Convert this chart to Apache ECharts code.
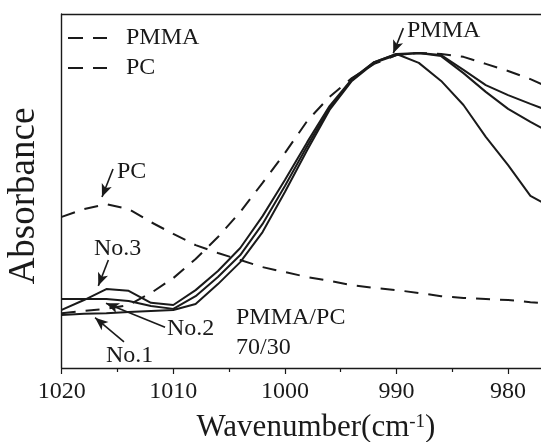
<!DOCTYPE html>
<html>
<head>
<meta charset="utf-8">
<style>
  html, body { margin: 0; padding: 0; background: #fff; overflow: hidden; }
  #chart { width: 541px; height: 442px; }
</style>
<script src="https://cdn.jsdelivr.net/npm/echarts@6/dist/echarts.min.js"></script>
</head>
<body>
<div id="chart"></div>
<script>
// FTIR spectra in the 1020-977 cm-1 region, PMMA/PC 70/30 blends
const wavenumbers = [1020, 1018, 1016, 1014, 1012, 1010, 1008, 1006, 1004, 1002, 1000,
  998, 996, 994, 992, 990, 988, 986, 984, 982, 980, 978, 977];

// reference spectra (dashed)
const pmma = [15.5, 16.1, 16.7, 17.8, 21.2, 25.4, 30.8, 37.0, 44.1, 52.3, 60.7,
  69.8, 76.6, 81.9, 85.9, 88.4, 89.0, 88.7, 87.9, 85.9, 83.9, 81.6, 80.2];
const pc = [42.7, 44.9, 46.3, 44.9, 41.2, 37.9, 34.7, 32.5, 30.5, 28.5, 27.1,
  25.7, 24.6, 23.4, 22.6, 22.0, 21.2, 20.3, 19.8, 19.5, 19.2, 18.6, 18.4];

// blend samples (solid)
const no1 = [15.0, 15.3, 15.5, 15.8, 16.1, 16.4, 18.1, 23.7, 29.9, 38.4, 49.7,
  61.6, 72.9, 81.1, 86.2, 88.4, 89.0, 88.1, 83.3, 78.0, 73.2, 69.5, 67.8];
const no2 = [19.5, 19.5, 19.5, 18.9, 17.5, 16.7, 20.3, 25.7, 31.9, 40.7, 51.4,
  62.7, 73.4, 81.4, 86.4, 88.7, 89.0, 88.4, 84.2, 79.9, 77.1, 74.6, 73.4];
const no3 = [16.4, 19.2, 22.3, 21.8, 18.4, 17.8, 22.0, 27.4, 33.9, 42.9, 53.1,
  63.8, 74.0, 81.6, 86.4, 88.7, 86.2, 81.1, 74.3, 65.3, 57.3, 48.6, 46.9];

const xTicks = { min: 970, max: 1020, interval: 10 };

// annotation arrows in data coordinates: [from, to]
const arrows = [
  [[1015.40, 56.2], [1016.39, 48.3]],  // PC
  [[1015.82, 30.5], [1016.72, 23.2]],  // No.3
  [[1010.74, 11.5], [1016.03, 18.3]],  // No.2
  [[1014.42, 7.4], [1017.01, 14.2]],   // No.1
  [[989.39, 96.0], [990.29, 88.9]]     // PMMA
];

const FONT = '"Liberation Serif", "Times New Roman", serif';
const INK = '#1a1a1a';
// two-dash swatch for the legend
const DASH_ICON = 'path://M0,0 H15 V2 H0 Z M25,0 H39 V2 H25 Z';

const pair = arr => wavenumbers.map((w, i) => [w, arr[i]]);

function lineSeries(name, values, dashed) {
  return {
    name: name,
    type: 'line',
    data: pair(values),
    showSymbol: false,
    symbol: 'none',
    smooth: false,
    lineStyle: { color: INK, width: 2, type: dashed ? [14, 10] : 'solid' },
    itemStyle: { color: INK },
    z: dashed ? 2 : 3
  };
}

const series = [
  lineSeries('PMMA', pmma, true),
  lineSeries('PC', pc, true),
  lineSeries('No.1', no1, false),
  lineSeries('No.2', no2, false),
  lineSeries('No.3', no3, false)
];

series[1].markLine = {
  silent: true,
  animation: false,
  symbol: ['none', 'arrow'],
  symbolSize: [8, 13],
  lineStyle: { color: INK, width: 1.6, type: 'solid' },
  label: { show: false },
  emphasis: { disabled: true },
  data: arrows.map(a => [{ coord: a[0] }, { coord: a[1] }])
};

function note(text, x, y) {
  return {
    type: 'text', x: x, y: y, silent: true,
    style: { text: text, fill: INK, font: '24px ' + FONT, align: 'left', verticalAlign: 'middle' }
  };
}

const option = {
  animation: false,
  backgroundColor: '#fff',
  grid: {
    left: 61.7, width: 558, top: 14, height: 354,
    containLabel: false, outerBoundsMode: 'none'
  },
  legend: {
    data: [
      { name: 'PMMA', icon: DASH_ICON },
      { name: 'PC', icon: DASH_ICON }
    ],
    orient: 'vertical',
    left: 63,
    top: 21,
    itemWidth: 39,
    itemHeight: 2.2,
    itemGap: 6,
    selectedMode: false,
    itemStyle: { color: INK, borderWidth: 0 },
    textStyle: { fontFamily: FONT, fontSize: 24, color: INK, lineHeight: 24, padding: [0, 0, 0, 14] }
  },
  xAxis: [
    {
      type: 'value',
      inverse: true,
      min: xTicks.min, max: xTicks.max, interval: xTicks.interval,
      position: 'bottom',
      axisLine: { show: true, onZero: false, lineStyle: { color: INK, width: 1.4 } },
      axisTick: { show: true, length: 6, lineStyle: { color: INK, width: 1.2 } },
      minorTick: { show: true, splitNumber: 2, length: 4, lineStyle: { color: INK, width: 1.2 } },
      axisLabel: {
        show: true, margin: 12, fontFamily: FONT, fontSize: 24, color: INK,
        formatter: v => String(v)
      },
      splitLine: { show: false }
    },
    {
      type: 'value',
      inverse: true,
      min: xTicks.min, max: xTicks.max, interval: xTicks.interval,
      position: 'top',
      axisLine: { show: true, onZero: false, lineStyle: { color: INK, width: 1.4 } },
      axisTick: { show: false },
      axisLabel: { show: false },
      splitLine: { show: false }
    }
  ],
  yAxis: {
    type: 'value',
    min: 0, max: 100,
    axisLine: { show: true, onZero: false, lineStyle: { color: INK, width: 1.4 } },
    axisTick: { show: false },
    axisLabel: { show: false },
    splitLine: { show: false }
  },
  series: series,
  graphic: [
    {
      type: 'text', x: 24, y: 196, rotation: Math.PI / 2, silent: true,
      style: { text: 'Absorbance', fill: INK, font: '37px ' + FONT, align: 'center', verticalAlign: 'middle' }
    },
    {
      type: 'text', x: 316, y: 428, silent: true,
      style: {
        text: '{m|Wavenumber(cm}{s|-1}{m|)}',
        align: 'center', verticalAlign: 'middle',
        rich: {
          m: { fontFamily: FONT, fontSize: 31, fill: INK, color: INK, lineHeight: 31 },
          s: { fontFamily: FONT, fontSize: 19, fill: INK, color: INK, lineHeight: 19, verticalAlign: 'top' }
        }
      }
    },
    note('PMMA', 407, 31),
    note('PC', 117, 172),
    note('No.3', 94, 249),
    note('No.2', 167, 329),
    note('No.1', 106, 356),
    note('PMMA/PC', 236, 318),
    note('70/30', 236, 348)
  ]
};

const chart = echarts.init(document.getElementById('chart'), null, { renderer: 'canvas' });
chart.setOption(option);
</script>
</body>
</html>
